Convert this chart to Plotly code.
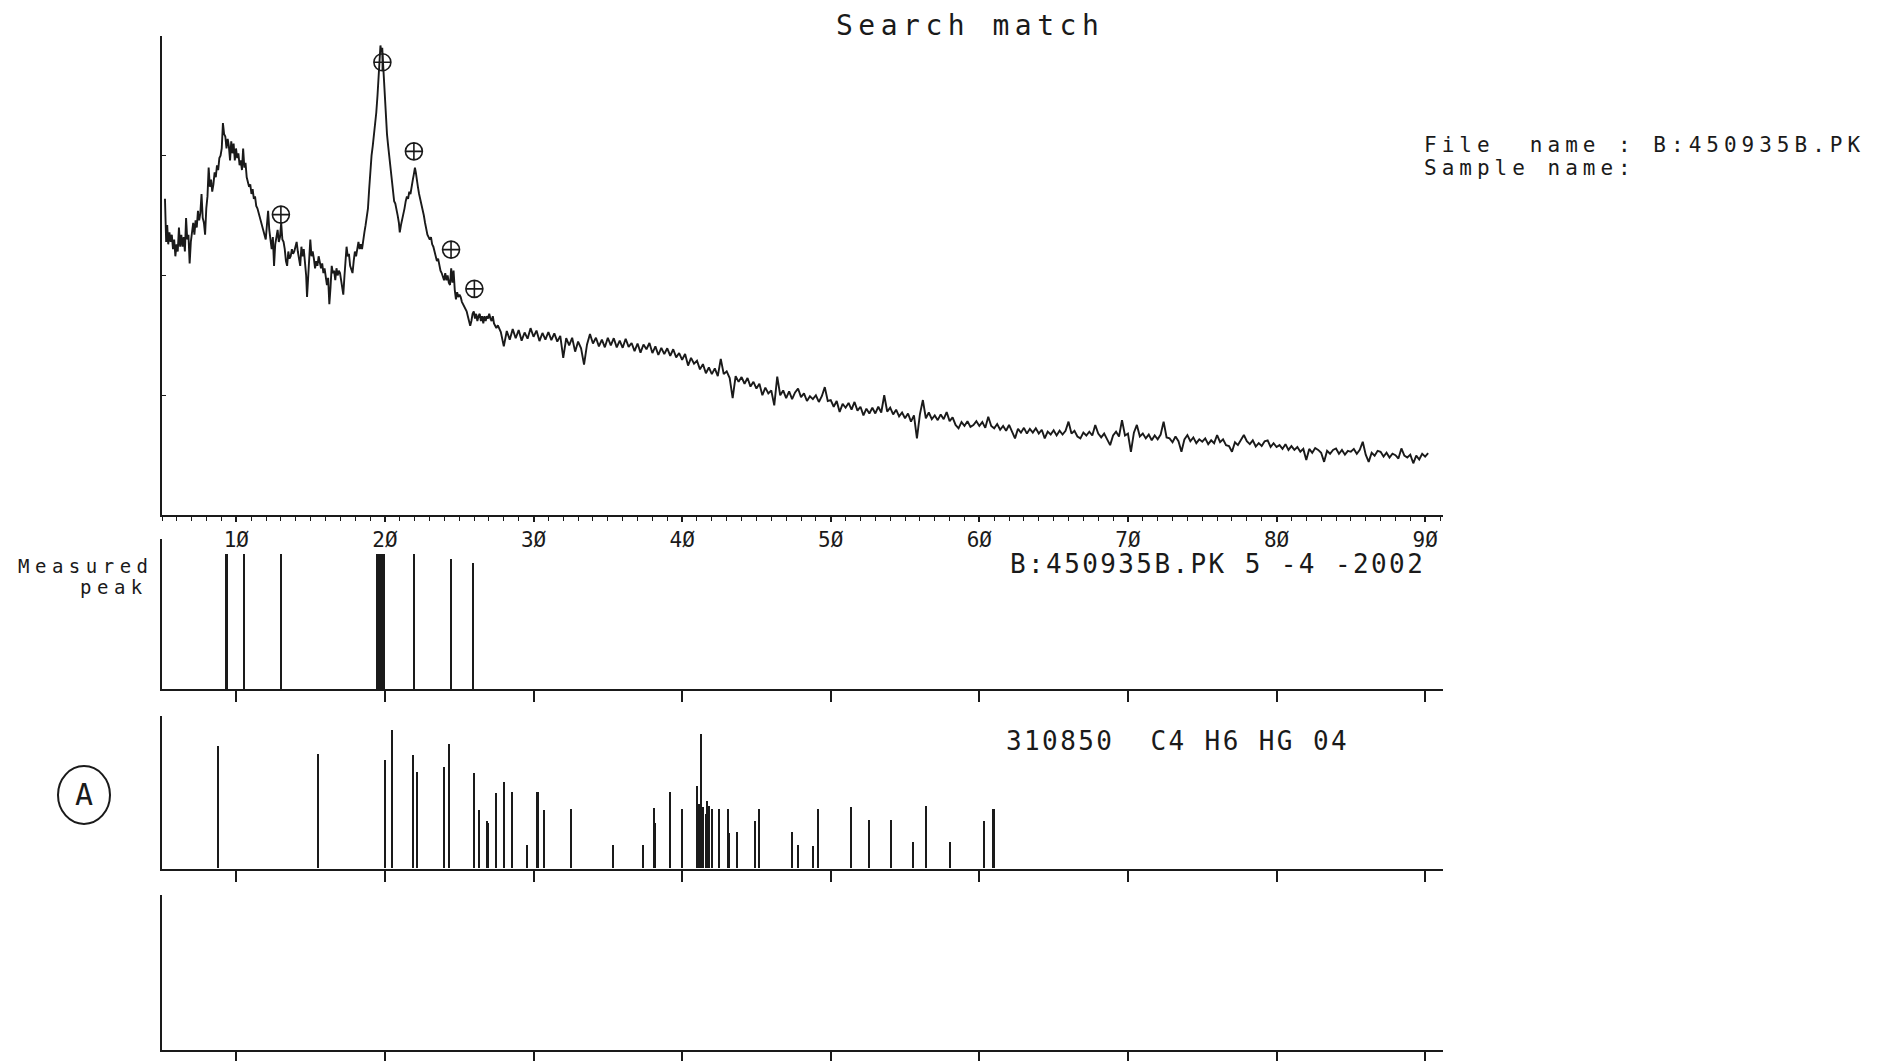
import plotly.graph_objects as go

W, H = 1878, 1061

# ---------------- data ----------------
two_theta = [
 5.20,5.28,5.35,5.42,5.50,5.58,5.66,5.74,5.82,5.90,5.98,6.06,6.14,6.22,6.30,6.38,6.46,6.54,6.62,6.70,
 6.78,6.86,6.94,7.02,7.10,7.18,7.26,7.34,7.42,7.50,7.58,7.66,7.74,7.82,7.90,7.98,8.06,8.14,8.22,8.30,
 8.38,8.46,8.54,8.62,8.70,8.78,8.86,8.94,9.02,9.10,9.18,9.26,9.34,9.42,9.50,9.58,9.66,9.74,9.82,9.90,
 9.98,10.06,10.14,10.22,10.30,10.38,10.46,10.54,10.62,10.70,10.78,10.86,10.94,11.02,11.10,11.18,11.26,11.34,11.42,11.50,
 11.58,11.66,11.74,11.82,11.90,11.98,12.06,12.14,12.22,12.30,12.38,12.46,12.54,12.62,12.70,12.78,12.86,12.94,13.02,13.10,
 13.18,13.26,13.34,13.42,13.50,13.58,13.66,13.74,13.82,13.90,13.98,14.06,14.14,14.22,14.30,14.38,14.46,14.54,14.62,14.70,
 14.76,14.84,14.92,14.98,15.06,15.14,15.22,15.30,15.38,15.46,15.54,15.62,15.70,15.78,15.86,15.94,16.02,16.10,16.18,16.26,
 16.34,16.42,16.50,16.58,16.66,16.74,16.82,16.90,16.98,17.06,17.14,17.20,17.28,17.36,17.42,17.50,17.58,17.66,17.74,17.82,
 17.90,17.98,18.06,18.14,18.22,18.30,18.38,18.46,18.54,18.62,18.70,18.78,18.86,18.94,19.02,19.10,19.18,19.26,19.34,19.42,
 19.50,19.58,19.64,19.70,19.76,19.82,19.88,19.94,20.00,20.06,20.14,20.22,20.30,20.38,20.46,20.54,20.62,20.70,20.78,20.86,
 20.94,21.00,21.08,21.16,21.24,21.32,21.40,21.48,21.56,21.64,21.72,21.80,21.88,21.94,22.02,22.08,22.14,22.22,22.30,22.38,
 22.46,22.54,22.62,22.70,22.78,22.86,22.94,23.02,23.10,23.18,23.26,23.34,23.42,23.50,23.58,23.66,23.74,23.82,23.90,23.98,
 24.06,24.14,24.22,24.30,24.38,24.46,24.54,24.62,24.70,24.78,24.86,24.94,25.02,25.10,25.18,25.26,25.34,25.42,25.50,25.58,
 25.66,25.74,25.82,25.90,25.98,26.06,26.14,26.22,26.30,26.38,26.46,26.54,26.62,26.70,26.78,26.86,26.94,27.02,27.10,27.18,
 27.26,27.34,27.42,27.50,
 27.6,27.8,
 28.0,28.2,28.4,28.6,28.8, 29.0,29.2,29.4,29.6,29.8, 30.0,30.2,30.4,30.6,30.8, 31.0,31.2,31.4,31.6,31.8,
 32.0,32.2,32.4,32.6,32.8, 33.0,33.2,33.4,33.6,33.8, 34.0,34.2,34.4,34.6,34.8, 35.0,35.2,35.4,35.6,35.8,
 36.0,36.2,36.4,36.6,36.8, 37.0,37.2,37.4,37.6,37.8, 38.0,38.2,38.4,38.6,38.8, 39.0,39.2,39.4,39.6,39.8,
 40.0,40.2,40.4,40.6,40.8, 41.0,41.2,41.4,41.6,41.8, 42.0,42.2,42.4,42.6,42.8, 43.0,43.2,43.4,43.6,43.8,
 44.0,44.2,44.4,44.6,44.8, 45.0,45.2,45.4,45.6,45.8, 46.0,46.2,46.4,46.6,46.8, 47.0,47.2,47.4,47.6,47.8,
 48.0,48.2,48.4,48.6,48.8, 49.0,49.2,49.4,49.6,49.8, 50.0,50.2,50.4,50.6,50.8, 51.0,51.2,51.4,51.6,51.8,
 52.0,52.2,52.4,52.6,52.8, 53.0,53.2,53.4,53.6,53.8, 54.0,54.2,54.4,54.6,54.8, 55.0,55.2,55.4,55.6,55.8,
 56.0,56.2,56.4,56.6,56.8, 57.0,57.2,57.4,57.6,57.8, 58.0,58.2,58.4,58.6,58.8, 59.0,59.2,59.4,59.6,59.8,
 60.0,60.2,60.4,60.6,60.8, 61.0,61.2,61.4,61.6,61.8, 62.0,62.2,62.4,62.6,62.8, 63.0,63.2,63.4,63.6,63.8,
 64.0,64.2,64.4,64.6,64.8, 65.0,65.2,65.4,65.6,65.8, 66.0,66.2,66.4,66.6,66.8, 67.0,67.2,67.4,67.6,67.8,
 68.0,68.2,68.4,68.6,68.8, 69.0,69.2,69.4,69.6,69.8, 70.0,70.2,70.4,70.6,70.8, 71.0,71.2,71.4,71.6,71.8,
 72.0,72.2,72.4,72.6,72.8, 73.0,73.2,73.4,73.6,73.8, 74.0,74.2,74.4,74.6,74.8, 75.0,75.2,75.4,75.6,75.8,
 76.0,76.2,76.4,76.6,76.8, 77.0,77.2,77.4,77.6,77.8, 78.0,78.2,78.4,78.6,78.8, 79.0,79.2,79.4,79.6,79.8,
 80.0,80.2,80.4,80.6,80.8, 81.0,81.2,81.4,81.6,81.8, 82.0,82.2,82.4,82.6,82.8, 83.0,83.2,83.4,83.6,83.8,
 84.0,84.2,84.4,84.6,84.8, 85.0,85.2,85.4,85.6,85.8, 86.0,86.2,86.4,86.6,86.8, 87.0,87.2,87.4,87.6,87.8,
 88.0,88.2,88.4,88.6,88.8, 89.0,89.2,89.4,89.6,89.8, 90.0,90.2,
]
intensity = [
 66.0,57.0,60.5,56.5,59.0,57.0,58.5,55.5,57.5,54.0,56.5,55.0,60.0,56.0,58.5,56.0,58.0,55.0,62.0,57.5,
 58.5,52.5,57.0,59.5,61.0,58.5,61.5,60.0,63.5,61.5,63.0,67.0,62.0,61.0,58.5,64.0,66.5,72.5,68.5,70.0,
 67.5,69.0,71.5,70.5,73.0,72.0,74.5,75.0,76.5,81.8,79.5,79.0,76.5,78.5,77.0,74.0,78.0,75.5,77.5,74.0,
 76.5,74.5,75.5,73.0,74.0,72.0,76.5,72.5,73.5,70.5,69.5,68.5,69.0,67.0,68.0,66.0,66.5,64.5,64.0,63.0,
 62.5,61.0,60.5,59.0,58.5,57.5,60.5,63.5,59.5,57.0,55.5,58.0,52.0,56.5,58.5,59.5,57.0,58.0,61.0,57.5,
 57.0,55.5,53.0,52.0,55.0,53.5,54.0,55.5,54.5,55.0,56.0,57.0,55.0,53.5,52.0,56.0,54.0,55.5,53.0,50.0,
 45.5,51.0,55.5,57.5,54.0,55.0,53.5,51.5,53.0,52.0,54.0,53.0,51.5,52.5,50.5,51.5,49.5,48.0,49.5,44.0,
 47.5,52.0,50.5,51.0,49.0,51.5,50.0,51.0,50.5,49.0,47.5,46.0,50.0,53.5,56.0,54.0,54.5,52.0,51.0,50.5,
 53.0,55.0,54.0,56.0,57.0,55.5,56.5,55.5,58.0,59.0,60.5,62.0,64.0,68.0,72.5,75.0,77.0,79.0,81.5,84.0,
 87.5,91.5,95.0,98.0,96.5,97.5,94.0,90.0,86.5,83.0,79.5,77.0,74.5,72.5,70.0,67.5,65.5,65.0,64.0,62.5,
 61.0,59.0,60.5,61.5,62.5,64.0,65.5,66.5,66.0,67.5,67.0,69.0,70.0,71.0,72.5,71.5,69.5,68.5,67.0,66.0,
 64.5,63.5,62.5,61.0,59.5,58.5,58.0,57.5,58.0,56.5,56.0,55.0,54.5,53.0,53.5,52.0,51.0,50.5,49.5,49.0,
 50.5,49.0,50.0,48.5,48.0,51.5,48.5,51.0,47.0,45.0,46.5,45.5,46.0,45.5,44.5,44.0,43.5,43.0,42.5,41.5,
 40.5,39.5,40.5,42.0,42.5,41.0,42.0,40.5,41.5,42.0,40.5,41.5,40.0,41.5,40.5,41.5,41.0,42.0,41.0,40.5,
 41.5,40.0,39.5,39.0,
 39.6,38.2,
 35.2,38.4,36.6,38.8,36.9, 38.6,36.4,38.1,36.8,39.0, 37.2,38.5,36.3,38.0,36.6, 38.2,36.5,37.9,36.2,37.4,
 32.8,36.9,35.4,37.0,34.1, 36.2,34.8,31.4,35.6,37.8, 35.8,37.0,35.2,36.6,35.0, 37.0,35.4,36.9,35.0,36.4,
 34.9,36.8,35.1,35.9,34.2, 35.8,33.9,35.6,34.6,35.9, 33.8,35.2,33.4,34.9,33.6, 34.8,33.2,34.6,32.9,33.8,
 32.4,33.6,31.2,32.8,31.6, 32.2,30.4,31.5,29.6,30.8, 29.4,30.6,29.0,32.6,29.4, 30.0,28.6,24.4,29.0,27.8,
 28.8,27.4,28.6,26.8,27.8, 26.4,27.4,25.0,26.6,25.4, 26.0,22.9,28.9,25.0,26.0, 24.4,25.8,24.2,25.6,26.4,
 24.6,25.4,23.8,24.8,24.2, 25.0,23.6,24.8,26.7,23.8, 24.0,22.6,23.8,21.5,23.2, 22.4,23.4,22.0,23.6,21.8,
 22.6,20.8,22.2,21.2,22.4, 21.2,22.6,21.4,25.0,21.6, 22.4,21.0,22.0,20.6,21.4, 20.2,21.2,19.5,20.8,16.0,
 21.0,24.0,20.2,21.4,20.0, 20.8,19.8,21.0,20.0,21.5, 19.6,20.4,18.8,18.1,19.4, 18.6,19.6,18.4,18.8,19.6,
 18.6,19.4,18.2,20.5,18.6, 18.1,19.0,17.8,18.6,17.6, 18.8,17.4,16.0,18.0,17.2, 18.2,17.0,18.0,17.2,18.1,
 17.0,17.8,16.0,17.4,16.8, 17.7,16.6,17.6,16.8,17.6, 19.5,17.0,17.6,16.4,16.0, 17.2,16.6,17.4,16.6,18.8,
 17.0,16.2,17.0,15.8,14.6, 16.6,17.4,16.4,19.8,16.6, 17.0,13.2,17.2,18.8,16.4, 17.0,16.0,16.8,15.6,16.6,
 15.8,16.8,19.5,16.2,16.0, 15.2,16.4,15.4,13.2,15.8, 16.7,15.4,16.2,15.0,15.8, 15.3,16.0,14.8,15.6,15.0,
 16.7,15.2,15.8,14.6,14.4, 13.2,15.2,14.6,15.6,16.7, 15.4,14.8,15.6,14.3,15.0, 14.4,15.4,15.6,14.2,15.0,
 14.2,14.6,13.8,14.8,13.6, 14.4,13.6,14.2,13.2,13.8, 11.5,13.8,13.0,14.0,13.6, 13.0,11.1,13.4,12.8,13.6,
 13.9,12.8,13.6,12.6,13.4, 13.2,13.8,12.8,13.6,15.3, 12.6,11.1,13.0,12.4,13.4, 13.2,12.2,13.0,12.0,12.8,
 12.5,11.8,13.9,12.4,12.0, 12.6,10.8,12.4,11.6,12.8, 12.2,12.9,
]

# marked peaks on the measured pattern
marked_theta = [13.0, 19.83, 21.95, 24.45, 26.02]
marked_int = [62.7, 94.5, 75.9, 55.4, 47.2]

# measured peak sticks
measured_theta = [9.35, 10.55, 13.02, 19.70, 21.95, 24.45, 25.93]
measured_height = [90, 90, 90, 90, 90, 87, 84]
measured_width = [0.12, 0.12, 0.12, 0.55, 0.12, 0.12, 0.12]

# reference card 31-0850 sticks
ref_theta = [8.76, 15.48, 20.03, 20.48, 21.92, 22.15, 24.0, 24.31, 26.04, 26.37, 26.88, 26.98,
             27.47, 28.06, 28.6, 29.57, 30.22, 30.32, 30.7, 32.55, 35.39, 37.37, 38.1, 38.16,
             39.2, 39.99, 41.0, 41.18, 41.29, 41.45, 41.6, 41.67, 41.83, 42.0, 42.48, 43.09,
             43.2, 43.69, 44.92, 45.2, 47.4, 47.78, 48.82, 49.19, 51.39, 52.61, 54.05, 55.54,
             56.4, 58.02, 60.35, 60.95, 61.02]
ref_height = [80, 75, 71, 90.5, 74.5, 63, 66.5, 81.5, 62.5, 38.5, 31, 30,
              49.5, 57, 50, 15.6, 50, 50, 38.5, 39, 15.6, 15.6, 39.5, 30,
              50, 39, 54, 42, 88.5, 40, 36, 44, 41, 39, 39, 39,
              23, 24, 31, 39, 24, 15.6, 15, 39, 40.5, 32, 32, 17.5,
              41, 17.5, 31, 39, 39]

tick_vals = [10, 20, 30, 40, 50, 60, 70, 80, 90]
tick_text = ["1Ø", "2Ø", "3Ø", "4Ø", "5Ø", "6Ø", "7Ø", "8Ø", "9Ø"]

# ---------------- layout geometry (pixels -> paper) ----------------
def px(x):
    return x / W

def py(y):
    return 1 - y / H

XDOM = [px(162), px(1443)]
XRANGE = [5, 91.2]
MONO = "DejaVu Sans Mono"
INK = "#1a1a1a"

fig = go.Figure()

fig.add_trace(go.Scatter(x=two_theta, y=intensity, mode="lines",
                         line=dict(color=INK, width=1.9),
                         xaxis="x", yaxis="y", showlegend=False))
fig.add_trace(go.Scatter(x=marked_theta, y=marked_int, mode="markers",
                         marker=dict(symbol="circle-cross-open", size=17,
                                     color=INK, line=dict(width=1.6, color=INK)),
                         xaxis="x", yaxis="y", showlegend=False))

fig.add_trace(go.Bar(x=measured_theta, y=measured_height, width=measured_width,
                     marker=dict(color=INK, line=dict(width=0)),
                     xaxis="x2", yaxis="y2", showlegend=False))
fig.add_trace(go.Bar(x=ref_theta, y=ref_height, width=[0.1] * len(ref_theta),
                     marker=dict(color=INK, line=dict(width=0)),
                     xaxis="x3", yaxis="y3", showlegend=False))
fig.add_trace(go.Scatter(x=[None], y=[None], mode="lines",
                         xaxis="x4", yaxis="y4", showlegend=False))

lower_x = dict(domain=XDOM, range=XRANGE, showline=True, linecolor=INK, linewidth=1.6,
               showgrid=False, zeroline=False, ticks="outside", tickvals=tick_vals,
               ticklen=11, tickwidth=1.5, tickcolor=INK, showticklabels=False)
lower_y = dict(range=[0, 100], showline=True, linecolor=INK, linewidth=1.6,
               showgrid=False, zeroline=False, ticks="", showticklabels=False)

fig.update_layout(
    width=W, height=H, margin=dict(l=0, r=0, t=0, b=0),
    paper_bgcolor="white", plot_bgcolor="white",
    bargap=0, barmode="overlay",
    xaxis=dict(domain=XDOM, range=XRANGE, anchor="y", showline=True, linecolor=INK,
               linewidth=2, showgrid=False, zeroline=False, ticks="outside",
               tickvals=tick_vals, ticktext=tick_text, ticklen=5, tickwidth=1.5,
               tickcolor=INK, tickfont=dict(family=MONO, size=21, color=INK),
               minor=dict(dtick=1, ticks="outside", ticklen=4, tickwidth=1, tickcolor=INK)),
    yaxis=dict(domain=[py(517), py(36)], range=[0, 100], anchor="x", showline=True,
               linecolor=INK, linewidth=2, showgrid=False, zeroline=False,
               ticks="inside", tickvals=[25, 50, 75], ticklen=4, tickcolor=INK,
               showticklabels=False),
    xaxis2=dict(lower_x, anchor="y2"),
    yaxis2=dict(lower_y, domain=[py(692), py(541)], anchor="x2"),
    xaxis3=dict(lower_x, anchor="y3"),
    yaxis3=dict(lower_y, domain=[py(872), py(719)], anchor="x3"),
    xaxis4=dict(lower_x, anchor="y4"),
    yaxis4=dict(lower_y, domain=[py(1054), py(898)], anchor="x4"),
)

def label(text, x, y, size, xanchor="left", spacing=0):
    if spacing:
        text = '<span style="letter-spacing:%gpx">%s</span>' % (spacing, text)
    fig.add_annotation(text=text, x=px(x), y=py(y), xref="paper", yref="paper",
                       xanchor=xanchor, yanchor="middle", showarrow=False,
                       font=dict(family=MONO, size=size, color=INK))

label("Search match", 970, 26, 28, xanchor="center", spacing=5.5)
label("File  name : B:450935B.PK", 1422, 146, 21, spacing=5.0)
label("Sample name:", 1422, 169, 21, spacing=5.0)
label("Measured", 156, 568, 19, xanchor="right", spacing=5.5)
label("peak", 150, 589, 19, xanchor="right", spacing=5.5)
label("B:450935B.PK 5 -4 -2002", 1008, 566, 26, spacing=2.4)
label("310850  C4 H6 HG 04", 1004, 744, 26, spacing=2.4)
label("A", 84, 798, 30, xanchor="center")

fig.add_shape(type="circle", xref="paper", yref="paper",
              x0=px(84 - 26), x1=px(84 + 26), y0=py(798 + 29), y1=py(798 - 29),
              line=dict(color=INK, width=2))

fig.write_html("out.html")
